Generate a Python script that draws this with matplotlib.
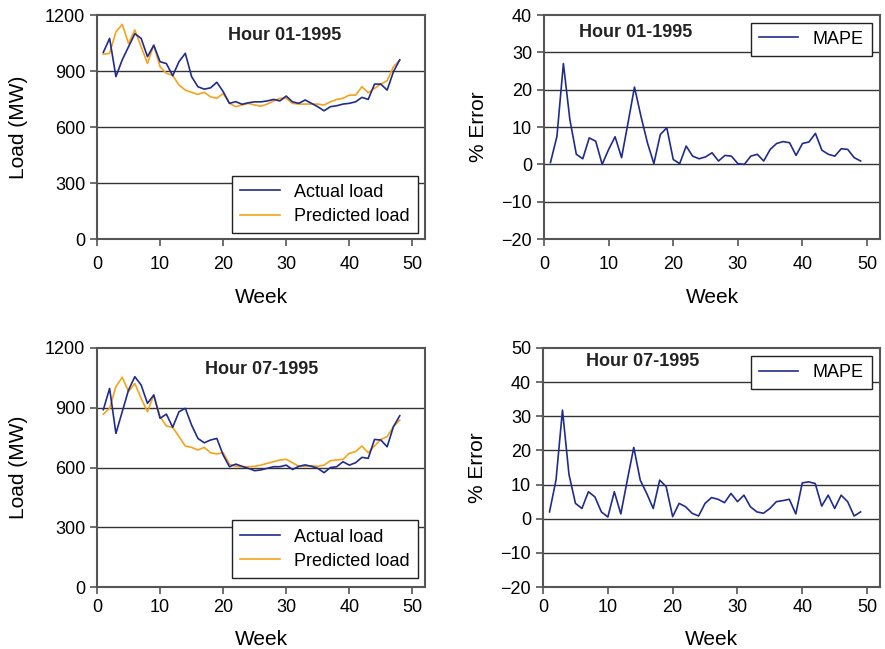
import numpy as np
import matplotlib
matplotlib.use("Agg")
import matplotlib.pyplot as plt

plt.rcParams["font.family"] = ["Liberation Sans", "DejaVu Sans"]
plt.rcParams["axes.unicode_minus"] = True

# weekly load, hour 01 (MW)
actual_01 = [1000, 1075, 870, 960, 1030, 1100, 1075, 977, 1038, 950,
             940, 875, 950, 995, 870, 816, 803, 810, 840, 790,
             727, 736, 722, 730, 735, 735, 740, 748, 740, 766,
             735, 727, 745, 727, 709, 687, 709, 714, 723, 727,
             735, 759, 748, 830, 830, 798, 896, 960]
pred_01 = [990, 995, 1110, 1150, 1048, 1120, 1030, 941, 1040, 923,
           888, 877, 825, 798, 786, 775, 786, 762, 754, 780,
           727, 709, 718, 727, 718, 712, 723, 740, 754, 754,
           727, 723, 723, 723, 723, 718, 735, 748, 754, 771,
           771, 816, 784, 807, 830, 848, 923, 959]

# weekly load, hour 07 (MW)
actual_07 = [890, 997, 771, 880, 989, 1056, 1014, 922, 964, 847,
             868, 802, 880, 897, 813, 746, 724, 738, 746, 663,
             604, 617, 606, 596, 584, 588, 596, 604, 604, 612,
             590, 606, 613, 606, 596, 574, 600, 604, 629, 612,
             624, 651, 646, 741, 738, 704, 805, 860]
pred_07 = [868, 897, 1006, 1053, 981, 1022, 947, 880, 964, 855,
           808, 802, 755, 708, 701, 688, 701, 674, 668, 674,
           617, 606, 604, 604, 606, 612, 621, 629, 638, 641,
           624, 606, 606, 609, 606, 612, 634, 638, 641, 671,
           680, 708, 674, 708, 741, 755, 805, 838]

# MAPE (%)
mape_01 = [0.5, 7.5, 27, 12, 2.7, 1.5, 7.1, 6.2, 0.0, 4.0,
           7.4, 1.8, 11.1, 20.7, 12.9, 5.8, 0.2, 8.0, 9.8, 1.3,
           0.2, 4.9, 2.2, 1.5, 2.0, 3.1, 0.9, 2.4, 2.2, 0.2,
           0.0, 2.2, 2.7, 0.9, 4.0, 5.6, 6.1, 5.8, 2.4, 5.6,
           6.0, 8.3, 3.8, 2.7, 2.2, 4.2, 4.0, 1.8, 0.9]
mape_07 = [2.0, 11.3, 31.8, 13, 4.5, 3.0, 7.9, 6.4, 2.0, 0.5,
           7.9, 1.4, 11.3, 20.9, 11.3, 7.4, 3.0, 11.3, 9.4, 0.6,
           4.5, 3.5, 1.6, 0.8, 4.5, 6.2, 5.7, 4.7, 7.4, 5.0,
           6.9, 3.5, 2.0, 1.6, 3.0, 5.0, 5.3, 5.7, 1.4, 10.5,
           10.8, 10.3, 3.7, 6.9, 3.0, 6.9, 5.0, 0.8, 2.0]

weeks_load = np.arange(1, len(actual_01) + 1)
weeks_mape = np.arange(1, len(mape_01) + 1)

blue = "#1f2c8c"
orange = "#f7a21b"
fs = 13

fig = plt.figure(figsize=(8.85, 6.49), dpi=100)
ax_tl = fig.add_axes([0.1096, 0.6317, 0.3706, 0.3451])
ax_tr = fig.add_axes([0.6147, 0.6317, 0.3797, 0.3451])
ax_bl = fig.add_axes([0.1096, 0.0955, 0.3706, 0.3683])
ax_br = fig.add_axes([0.6136, 0.0955, 0.3808, 0.3683])


def style(ax, yticks, top):
    ax.set_xlim(0, 52)
    ax.set_xticks([0, 10, 20, 30, 40, 50])
    ax.set_ylim(yticks[0], yticks[-1])
    ax.set_yticks(yticks)
    for t in yticks[1:-1]:
        ax.axhline(t, color="#333333", lw=1.0, zorder=1)
    for s in ax.spines.values():
        s.set_color("#555555")
        s.set_linewidth(1.5)
    ax.tick_params(direction="out", length=5, width=1.2, color="#555555",
                   labelsize=fs)
    if top:
        ax.tick_params(axis="x", pad=7)
        ax.set_xlabel("Week", fontsize=fs + 2, labelpad=11)
    else:
        ax.set_xlabel("Week", fontsize=fs + 2, labelpad=10)


for ax, act, pred, title, lpos, tpos, top in [
        (ax_tl, actual_01, pred_01, "Hour 01-1995", 0.027, (0.573, 0.91), True),
        (ax_bl, actual_07, pred_07, "Hour 07-1995", 0.038, (0.503, 0.908), False)]:
    ax.plot(weeks_load, act, color=blue, lw=1.2, label="Actual load", zorder=3)
    ax.plot(weeks_load, pred, color=orange, lw=1.2, label="Predicted load", zorder=2)
    style(ax, [0, 300, 600, 900, 1200], top)
    ax.set_ylabel("Load (MW)", fontsize=fs + 2, labelpad=12)
    ax.text(tpos[0], tpos[1], title, transform=ax.transAxes, ha="center",
            va="center", fontsize=fs, fontweight="bold", color="#222222")
    leg = ax.legend(loc="lower right", bbox_to_anchor=(0.979, lpos), fontsize=fs,
                    fancybox=False, framealpha=1, edgecolor="#222222",
                    borderpad=0.45, handlelength=2.2, labelspacing=0.4,
                    borderaxespad=0)
    leg.get_frame().set_linewidth(1.0)

for ax, mape, yt, title, tpos, top in [
        (ax_tr, mape_01, [-20, -10, 0, 10, 20, 30, 40], "Hour 01-1995", (0.272, 0.921), True),
        (ax_br, mape_07, [-20, -10, 0, 10, 20, 30, 40, 50], "Hour 07-1995", (0.296, 0.943), False)]:
    ax.plot(weeks_mape, mape, color=blue, lw=1.2, label="MAPE", zorder=3)
    style(ax, yt, top)
    ax.set_ylabel("% Error", fontsize=fs + 2, labelpad=10)
    ax.text(tpos[0], tpos[1], title, transform=ax.transAxes, ha="center",
            va="center", fontsize=fs, fontweight="bold", color="#222222")
    leg = ax.legend(loc="upper right", bbox_to_anchor=(0.976, 0.966), fontsize=fs,
                    fancybox=False, framealpha=1, edgecolor="#222222",
                    borderpad=0.45, handlelength=2.2, borderaxespad=0)
    leg.get_frame().set_linewidth(1.0)

fig.savefig("out.png", dpi=100)
